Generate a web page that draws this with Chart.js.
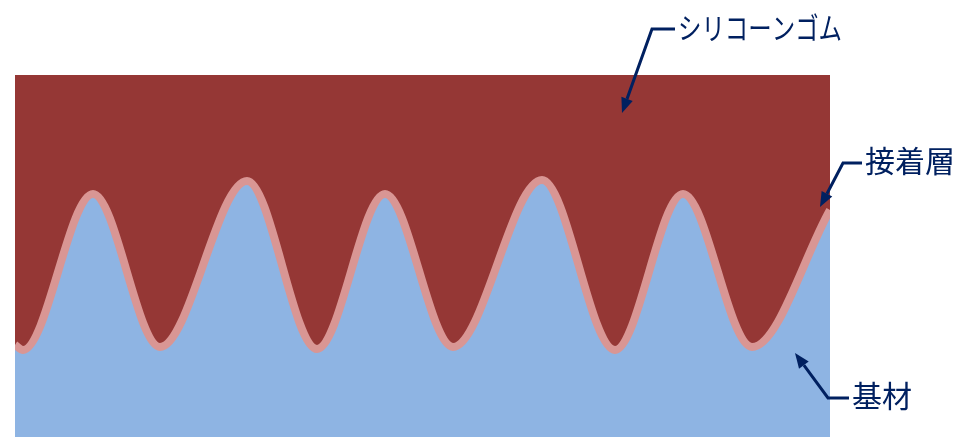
<!DOCTYPE html>
<html>
<head>
<meta charset="utf-8">
<script src="https://cdn.jsdelivr.net/npm/chart.js@4"></script>
<style>
  html, body { margin: 0; padding: 0; background: #ffffff; }
  #wrap { width: 962px; height: 437px; position: relative; }
</style>
</head>
<body>
<div id="wrap"><canvas id="chart"></canvas></div>
<script>
// Interface profile between the adhesive layer and the substrate
// (position along the sample, height above the bottom)
const positions = [0, 8, 78, 145, 232, 302, 370, 438, 527, 600, 668, 737, 815];
const heights   = [92, 87, 243, 90, 256, 88, 243, 90, 257, 87, 243, 90, 227];

const layerNames = ['シリコーンゴム', '接着層', '基材'];

const colors = {
  rubber: '#953735',
  adhesive: '#D99694',
  substrate: '#8EB4E3',
  label: '#002060'
};

const points = positions.map((x, i) => ({ x: x, y: heights[i] }));

// Callout labels with leader arrows, drawn after the chart
const calloutPlugin = {
  id: 'callouts',
  afterDraw: function(chart) {
    const ctx = chart.ctx;
    const callouts = [
      { text: layerNames[0], tx: 678, ty: 28, knee: [652, 29], tip: [622, 113], width: 164 },
      { text: layerNames[1], tx: 865, ty: 161, knee: [843, 163], tip: [820, 207] },
      { text: layerNames[2], tx: 852, ty: 396, knee: [828, 398], tip: [795, 353] }
    ];
    ctx.save();
    ctx.strokeStyle = colors.label;
    ctx.fillStyle = colors.label;
    ctx.lineWidth = 3;
    ctx.lineJoin = 'miter';
    callouts.forEach(c => {
      // leader line
      const [kx, ky] = c.knee;
      const [px, py] = c.tip;
      const ang = Math.atan2(py - ky, px - kx);
      const headLen = 15, headW = 6;
      const bx = px - headLen * Math.cos(ang);
      const by = py - headLen * Math.sin(ang);
      ctx.beginPath();
      ctx.moveTo(c.tx - 3, ky);
      ctx.lineTo(kx, ky);
      ctx.lineTo(bx, by);
      ctx.stroke();
      // arrow head
      ctx.beginPath();
      ctx.moveTo(px, py);
      ctx.lineTo(bx + headW * Math.sin(ang), by - headW * Math.cos(ang));
      ctx.lineTo(bx - headW * Math.sin(ang), by + headW * Math.cos(ang));
      ctx.closePath();
      ctx.fill();
      // text
      ctx.font = '30px "Noto Sans CJK JP", sans-serif';
      ctx.textBaseline = 'middle';
      ctx.textAlign = 'left';
      if (c.width) {
        const w = ctx.measureText(c.text).width;
        ctx.save();
        ctx.translate(c.tx, c.ty);
        ctx.scale(c.width / w, 1);
        ctx.fillText(c.text, 0, 0);
        ctx.restore();
      } else {
        ctx.fillText(c.text, c.tx, c.ty);
      }
    });
    ctx.restore();
  }
};

new Chart(document.getElementById('chart'), {
  type: 'line',
  data: {
    datasets: [
      {
        label: layerNames[2],
        data: points,
        fill: 'start',
        backgroundColor: colors.substrate,
        borderWidth: 0,
        pointRadius: 0,
        cubicInterpolationMode: 'monotone'
      },
      {
        label: layerNames[0],
        data: points,
        fill: 'end',
        backgroundColor: colors.rubber,
        borderColor: colors.adhesive,
        borderWidth: 8,
        borderJoinStyle: 'round',
        pointRadius: 0,
        cubicInterpolationMode: 'monotone'
      }
    ]
  },
  options: {
    responsive: true,
    maintainAspectRatio: false,
    animation: false,
    layout: { padding: { left: 15, right: 132, top: 75, bottom: 0 } },
    scales: {
      x: { type: 'linear', min: 0, max: 815, display: false },
      y: { min: 0, max: 362, display: false }
    },
    plugins: {
      legend: { display: false },
      tooltip: { enabled: false },
      filler: { drawTime: 'beforeDatasetsDraw' }
    }
  },
  plugins: [calloutPlugin]
});
</script>
</body>
</html>
